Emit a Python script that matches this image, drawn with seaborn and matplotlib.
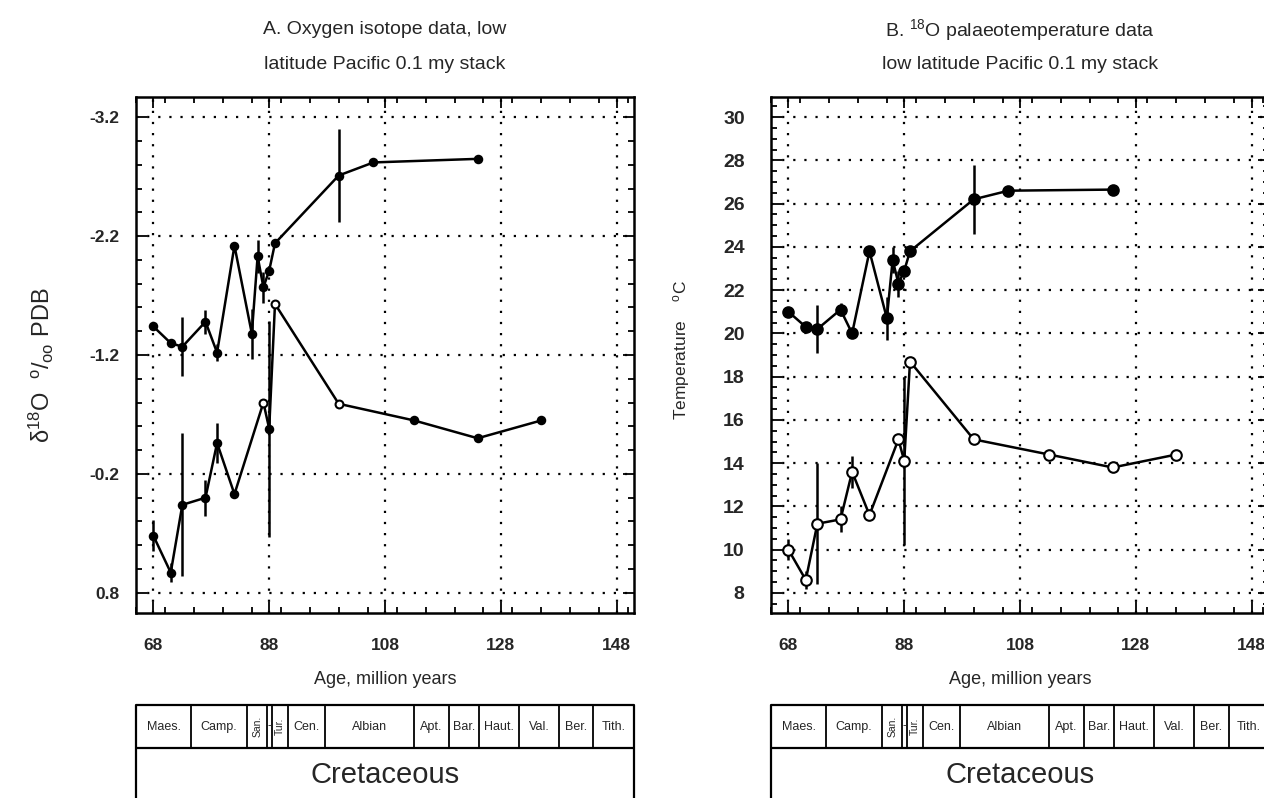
import numpy as np
import pandas as pd
import seaborn as sns
import matplotlib
matplotlib.use("Agg")
import matplotlib.pyplot as plt
from matplotlib.ticker import MultipleLocator, FixedLocator

sns.set_style("ticks")
plt.rcParams['font.family'] = ['Liberation Sans', 'DejaVu Sans']
plt.rcParams['mathtext.fontset'] = 'custom'
plt.rcParams['mathtext.rm'] = 'Liberation Sans'
plt.rcParams['mathtext.it'] = 'Liberation Sans:italic'
plt.rcParams['mathtext.bf'] = 'Liberation Sans:bold'
plt.rcParams['axes.unicode_minus'] = False

# upper series (filled circles)
age_upper = [68, 71, 73, 77, 79, 82, 85, 86, 87, 88, 89, 100, 106, 124]
d18o_upper = [-1.44, -1.30, -1.27, -1.48, -1.22, -2.12, -1.38, -2.03, -1.77, -1.91, -2.14, -2.71, -2.82, -2.85]
d18o_upper_err = [0, 0, 0.25, 0.10, 0.07, 0, 0.21, 0.14, 0.13, 0, 0, 0.39, 0, 0]
temp_upper = [21.0, 20.3, 20.2, 21.1, 20.0, 23.8, 20.7, 23.4, 22.3, 22.9, 23.8, 26.2, 26.6, 26.65]
temp_upper_err = [0, 0, 1.1, 0.3, 0, 0, 1.0, 0.6, 0.6, 0, 0, 1.6, 0, 0]

# lower series
age_lower = [68, 71, 73, 77, 79, 82, 87, 88, 89, 100, 113, 124, 135]
d18o_lower = [0.32, 0.63, 0.06, 0.0, -0.46, -0.03, -0.80, -0.58, -1.63, -0.79, -0.65, -0.50, -0.65]
d18o_lower_err = [0.13, 0.08, 0.6, 0.15, 0.17, 0, 0, 0.91, 0, 0, 0, 0, 0]
d18o_lower_open = [False, False, False, False, False, False, True, False, True, True, False, False, False]
temp_lower = [10.0, 8.6, 11.2, 11.4, 13.6, 11.6, 15.1, 14.1, 18.7, 15.1, 14.4, 13.8, 14.4]
temp_lower_err = [0.5, 0.4, 2.8, 0.6, 0.75, 0, 0, 3.9, 0, 0, 0, 0, 0]

# stratigraphy under the x axis
stage_names = ['Maes.', 'Camp.', 'San.', '-', 'Tur.', 'Cen.', 'Albian', 'Apt.', 'Bar.', 'Haut.', 'Val.', 'Ber.', 'Tith.']
stage_bounds = [65, 74.5, 84.2, 87.7, 88.5, 91.2, 97.6, 113.0, 119.0, 124.2, 131.2, 138.1, 144.0, 151]
stage_rotated = ['San.', 'Tur.']

age_ticks = [68, 88, 108, 128, 148]
d18o_ticks = [-3.2, -2.2, -1.2, -0.2, 0.8]
temp_ticks = [8, 10, 12, 14, 16, 18, 20, 22, 24, 26, 28, 30]

fig = plt.figure(figsize=(12.64, 7.98), dpi=100)
ax1 = fig.add_axes([0.1076, 0.2318, 0.394, 0.6466])
ax2 = fig.add_axes([0.61, 0.2318, 0.394, 0.6466])

grid_style = dict(color='black', linestyle=(0, (1, 4)), linewidth=1.6)


def draw_series(ax, x, y, err, is_open, msize):
    sns.lineplot(x=x, y=y, ax=ax, color='black', linewidth=1.8, sort=False,
                 estimator=None, zorder=3)
    for xi, yi, ei in zip(x, y, err):
        if ei > 0:
            ax.vlines(xi, yi - ei, yi + ei, color='black', linewidth=1.8, zorder=3)
    df = pd.DataFrame({'x': x, 'y': y, 'open': is_open})
    filled = df[~df['open']]
    hollow = df[df['open']]
    sns.scatterplot(data=filled, x='x', y='y', ax=ax, color='black', s=msize,
                    edgecolor='black', linewidth=1.2, zorder=4)
    sns.scatterplot(data=hollow, x='x', y='y', ax=ax, color='white', s=msize,
                    edgecolor='black', linewidth=1.5, zorder=4)


def style_axes(ax, yticks, yminor, ylim, ypad, ysize):
    ax.set_xlim(65, 151)
    ax.set_ylim(*ylim)
    ax.xaxis.set_major_locator(FixedLocator(age_ticks))
    ax.xaxis.set_minor_locator(MultipleLocator(5))
    ax.yaxis.set_major_locator(FixedLocator(yticks))
    ax.yaxis.set_minor_locator(MultipleLocator(yminor))
    ax.set_yticklabels([f'{t:g}' for t in yticks])
    ax.grid(True, which='major', **grid_style)
    ax.tick_params(which='both', direction='in', top=True, right=True, width=1.3, color='black')
    ax.tick_params(which='major', length=8)
    ax.tick_params(which='minor', length=4)
    ax.tick_params(axis='x', which='major', pad=18, labelsize=12.5)
    ax.tick_params(axis='y', which='major', pad=ypad, labelsize=ysize)
    for lab in ax.get_xticklabels() + ax.get_yticklabels():
        lab.set_fontweight('bold')
    for sp in ax.spines.values():
        sp.set_linewidth(1.8)
        sp.set_color('black')
    ax.set_xlabel('Age, million years', fontsize=13, labelpad=13)
    ax.set_ylabel('')


draw_series(ax1, age_upper, d18o_upper, d18o_upper_err, [False] * len(age_upper), 32)
draw_series(ax1, age_lower, d18o_lower, d18o_lower_err, d18o_lower_open, 32)
style_axes(ax1, d18o_ticks, 0.2, (0.97, -3.37), 12, 12.5)
ax1.text(-0.19, 0.48, r'δ$^{18}$O  $^{\mathrm{o}}/_{\mathrm{oo}}$ PDB', transform=ax1.transAxes,
         rotation=90, fontsize=17, ha='center', va='center')
ax1.text(0.5, 1.13, 'A. Oxygen isotope data, low', transform=ax1.transAxes,
         ha='center', va='center', fontsize=14)
ax1.text(0.5, 1.064, 'latitude Pacific 0.1 my stack', transform=ax1.transAxes,
         ha='center', va='center', fontsize=14)

draw_series(ax2, age_upper, temp_upper, temp_upper_err, [False] * len(age_upper), 62)
draw_series(ax2, age_lower, temp_lower, temp_lower_err, [True] * len(age_lower), 58)
style_axes(ax2, temp_ticks, 0.5, (7.07, 30.93), 19, 14)
ax2.text(-0.18, 0.51, r'Temperature    $^{\mathrm{o}}$C', transform=ax2.transAxes,
         rotation=90, fontsize=12.5, ha='center', va='center')
ax2.text(0.5, 1.13, r'B. $^{18}$O palaeotemperature data', transform=ax2.transAxes,
         ha='center', va='center', fontsize=14)
ax2.text(0.5, 1.064, 'low latitude Pacific 0.1 my stack', transform=ax2.transAxes,
         ha='center', va='center', fontsize=14)


def draw_stages(pos):
    sax = fig.add_axes(pos)
    sax.set_xlim(65, 151)
    sax.set_ylim(0, 1)
    sax.axis('off')
    lw = 1.6
    sax.plot([65, 151, 151, 65, 65], [0, 0, 1, 1, 0], color='black', lw=lw, clip_on=False)
    sax.plot([65, 151], [0.633, 0.633], color='black', lw=lw)
    for b in stage_bounds[1:-1]:
        sax.plot([b, b], [0.633, 1], color='black', lw=1.3)
    for name, lo, hi in zip(stage_names, stage_bounds[:-1], stage_bounds[1:]):
        mid = (lo + hi) / 2
        if name in stage_rotated:
            sax.text(mid, 0.816, name, rotation=90, fontsize=7.5, ha='center', va='center')
        else:
            sax.text(mid, 0.816, name, fontsize=9, ha='center', va='center')
    sax.text(108, 0.40, 'Cretaceous', fontsize=21, ha='center', va='center')


draw_stages([0.1076, -0.03, 0.394, 0.1465])
draw_stages([0.61, -0.03, 0.394, 0.1465])

fig.savefig('out.png', dpi=100)
